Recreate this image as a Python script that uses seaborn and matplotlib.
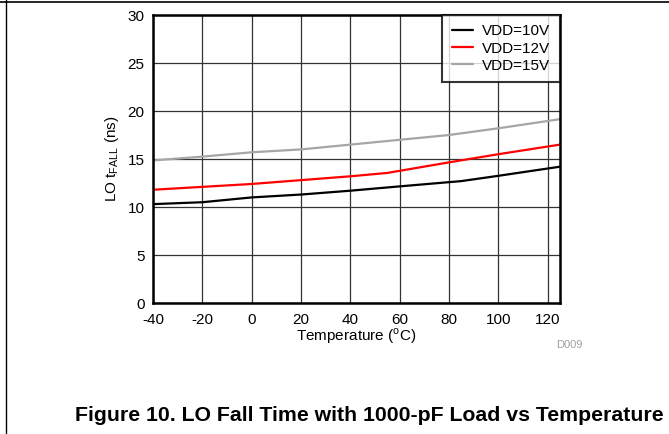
import matplotlib
matplotlib.use("Agg")
import matplotlib.pyplot as plt
from matplotlib.lines import Line2D
import pandas as pd
import seaborn as sns

temp_10v = [-40, -20, 0, 20, 40, 60, 85, 100, 125]
tfall_10v = [10.3, 10.5, 11.0, 11.3, 11.7, 12.15, 12.7, 13.25, 14.2]
temp_12v = [-40, -20, 0, 20, 40, 55, 80, 100, 125]
tfall_12v = [11.8, 12.1, 12.4, 12.8, 13.2, 13.55, 14.65, 15.5, 16.5]
temp_15v = [-40, -20, 0, 20, 40, 60, 80, 100, 125]
tfall_15v = [14.85, 15.25, 15.7, 16.0, 16.5, 17.0, 17.5, 18.2, 19.15]

series = ["VDD=10V", "VDD=12V", "VDD=15V"]
colors = ["#000000", "#ff0000", "#a6a6a6"]

frames = []
for name, t, v in zip(series, [temp_10v, temp_12v, temp_15v], [tfall_10v, tfall_12v, tfall_15v]):
    frames.append(pd.DataFrame({"Temperature": t, "tfall": v, "series": name}))
df = pd.concat(frames, ignore_index=True)

sns.set_theme(style="white")
plt.rcParams['font.family'] = ['Liberation Sans', 'DejaVu Sans']
plt.rcParams['mathtext.fontset'] = 'custom'
plt.rcParams['mathtext.rm'] = 'Liberation Sans'
plt.rcParams['axes.unicode_minus'] = False
plt.rcParams['text.color'] = 'black'
plt.rcParams['axes.labelcolor'] = 'black'

fig = plt.figure(figsize=(6.69, 4.34), dpi=100)
ax = fig.add_axes([0.2287, 0.3018, 0.837 - 0.2287, 0.9654 - 0.3018])

sns.lineplot(data=df, x="Temperature", y="tfall", hue="series", hue_order=series,
             palette=colors, linewidth=1.6, ax=ax, estimator=None, sort=True)

ax.set_xlim(-40, 125)
ax.set_ylim(0, 30)
ax.set_xticks(range(-40, 121, 20))
ax.set_yticks(range(0, 31, 5))
ax.grid(True, color="#333333", linewidth=0.9)
ax.set_axisbelow(True)
for s in ax.spines.values():
    s.set_linewidth(1.8)
    s.set_color("black")
ax.tick_params(axis="both", labelsize=11, colors="black", length=0)
ax.tick_params(axis="x", pad=7)
ax.tick_params(axis="y", pad=6)
ax.set_xlabel("Temperature ($^\\mathregular{o}$C)", fontsize=11, labelpad=0)
ax.set_ylabel("LO t$_\\mathregular{FALL}$ (ns)", fontsize=11, labelpad=5)

leg = ax.legend(loc="upper right", frameon=True, fancybox=False, fontsize=11,
                borderaxespad=0, handlelength=1.4, handletextpad=0.6,
                labelspacing=0.2, borderpad=0.62)
leg.get_frame().set_edgecolor("black")
leg.get_frame().set_linewidth(1.5)
leg.set_title(None)

fig.text(569 / 669, 1 - 345 / 434, "D009", fontsize=8, color="#a0a0a0", ha="center", va="center")
fig.text(664 / 669, 1 - 421 / 434, "Figure 10. LO Fall Time with 1000-pF Load vs Temperature",
         fontsize=15.3, fontweight="bold", ha="right", va="baseline")

fig.add_artist(Line2D([0, 1], [1 - 1.5 / 434, 1 - 1.5 / 434], color="black", linewidth=1.2))
fig.add_artist(Line2D([6 / 669, 6 / 669], [0, 1], color="black", linewidth=1.0))

fig.savefig("out.png", dpi=100)
